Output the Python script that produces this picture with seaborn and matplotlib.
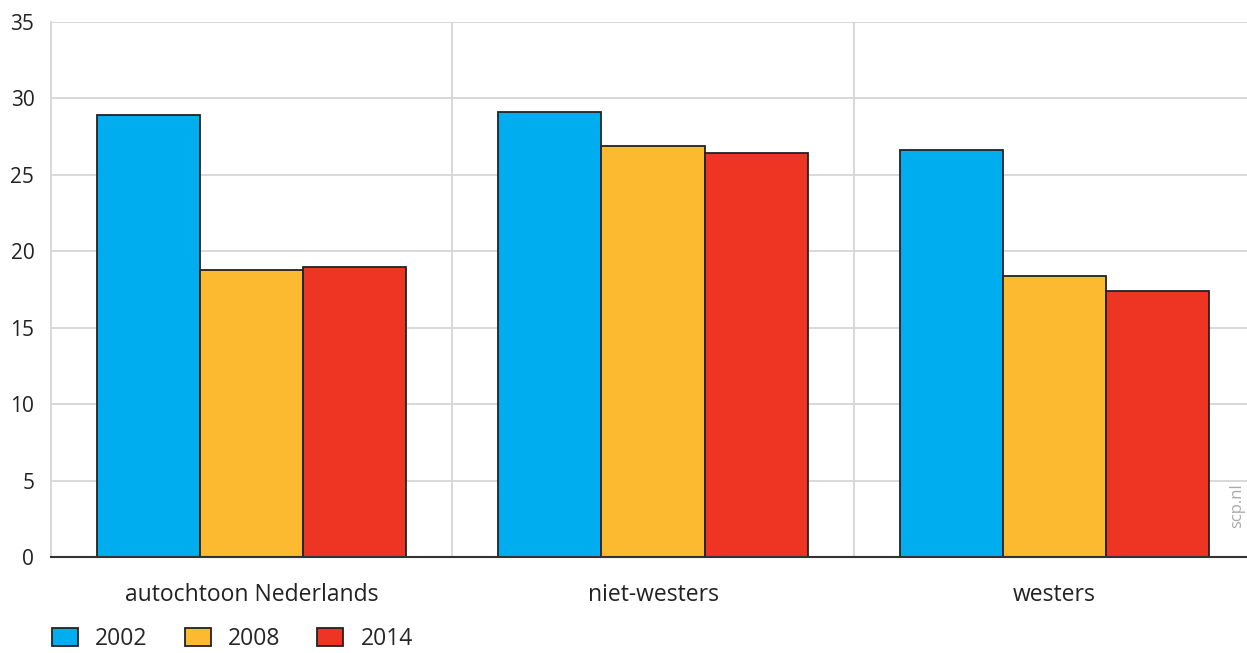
import pandas as pd
import seaborn as sns
import matplotlib.pyplot as plt
from matplotlib.patches import Patch

# Data
groepen = ['autochtoon Nederlands', 'niet-westers', 'westers']
jaren = ['2002', '2008', '2014']
waarden_2002 = [28.9, 29.1, 26.6]
waarden_2008 = [18.8, 26.9, 18.4]
waarden_2014 = [19.0, 26.4, 17.4]
kleuren = ['#00AEEF', '#FBBA30', '#EE3524']

df = pd.DataFrame({
    'groep': groepen * 3,
    'jaar': [j for j in jaren for _ in groepen],
    'waarde': waarden_2002 + waarden_2008 + waarden_2014,
})

sns.set_style('white')
plt.rcParams['font.family'] = ['Open Sans', 'DejaVu Sans']

fig = plt.figure(figsize=(12.47, 6.53), dpi=100)
ax = fig.add_axes([51 / 1247, 96 / 653, 1204 / 1247, 535 / 653])

sns.barplot(data=df, x='groep', y='waarde', hue='jaar', palette=kleuren,
            saturation=1, width=0.77, edgecolor='#222222', linewidth=1.3,
            ax=ax, legend=False, zorder=3)

ax.set_xlim(-0.5, 2.5)
ax.set_ylim(0, 35)
ax.set_yticks(range(0, 36, 5))
ax.set_xticks([0.5, 1.5], minor=True)
ax.grid(True, axis='y', color='#d6d6d6', linewidth=1.3, zorder=0)
ax.grid(True, axis='x', which='minor', color='#d6d6d6', linewidth=1.3, zorder=0)
ax.set_axisbelow(True)

for s in ['top', 'right']:
    ax.spines[s].set_visible(False)
ax.spines['left'].set_color('#d6d6d6')
ax.spines['left'].set_linewidth(1.3)
ax.spines['bottom'].set_color('#333333')
ax.spines['bottom'].set_linewidth(1.5)
ax.spines['bottom'].set_zorder(4)

ax.tick_params(axis='y', length=0, labelsize=15, colors='#222222', pad=12)
ax.tick_params(axis='x', which='major', length=7, width=1.3, color='#333333',
               labelsize=16.5, labelcolor='#222222', pad=12, direction='out')
ax.tick_params(axis='x', which='minor', length=0)
ax.set_xlabel('')
ax.set_ylabel('')

# watermerk
fig.text(1237 / 1247, 96 / 653 + 0.045, 'scp.nl', rotation=90,
         color='#aaaaaa', fontsize=12, ha='center', va='bottom')

# legenda
handles = [Patch(facecolor=c, edgecolor='#222222', linewidth=1.3) for c in kleuren]
fig.legend(handles, jaren, loc='lower left', bbox_to_anchor=(0.025, -0.028),
           ncol=3, frameon=False, fontsize=16.5, handlelength=1.15,
           handleheight=0.85, columnspacing=1.6, handletextpad=0.75)

fig.savefig('out.png', dpi=100)
